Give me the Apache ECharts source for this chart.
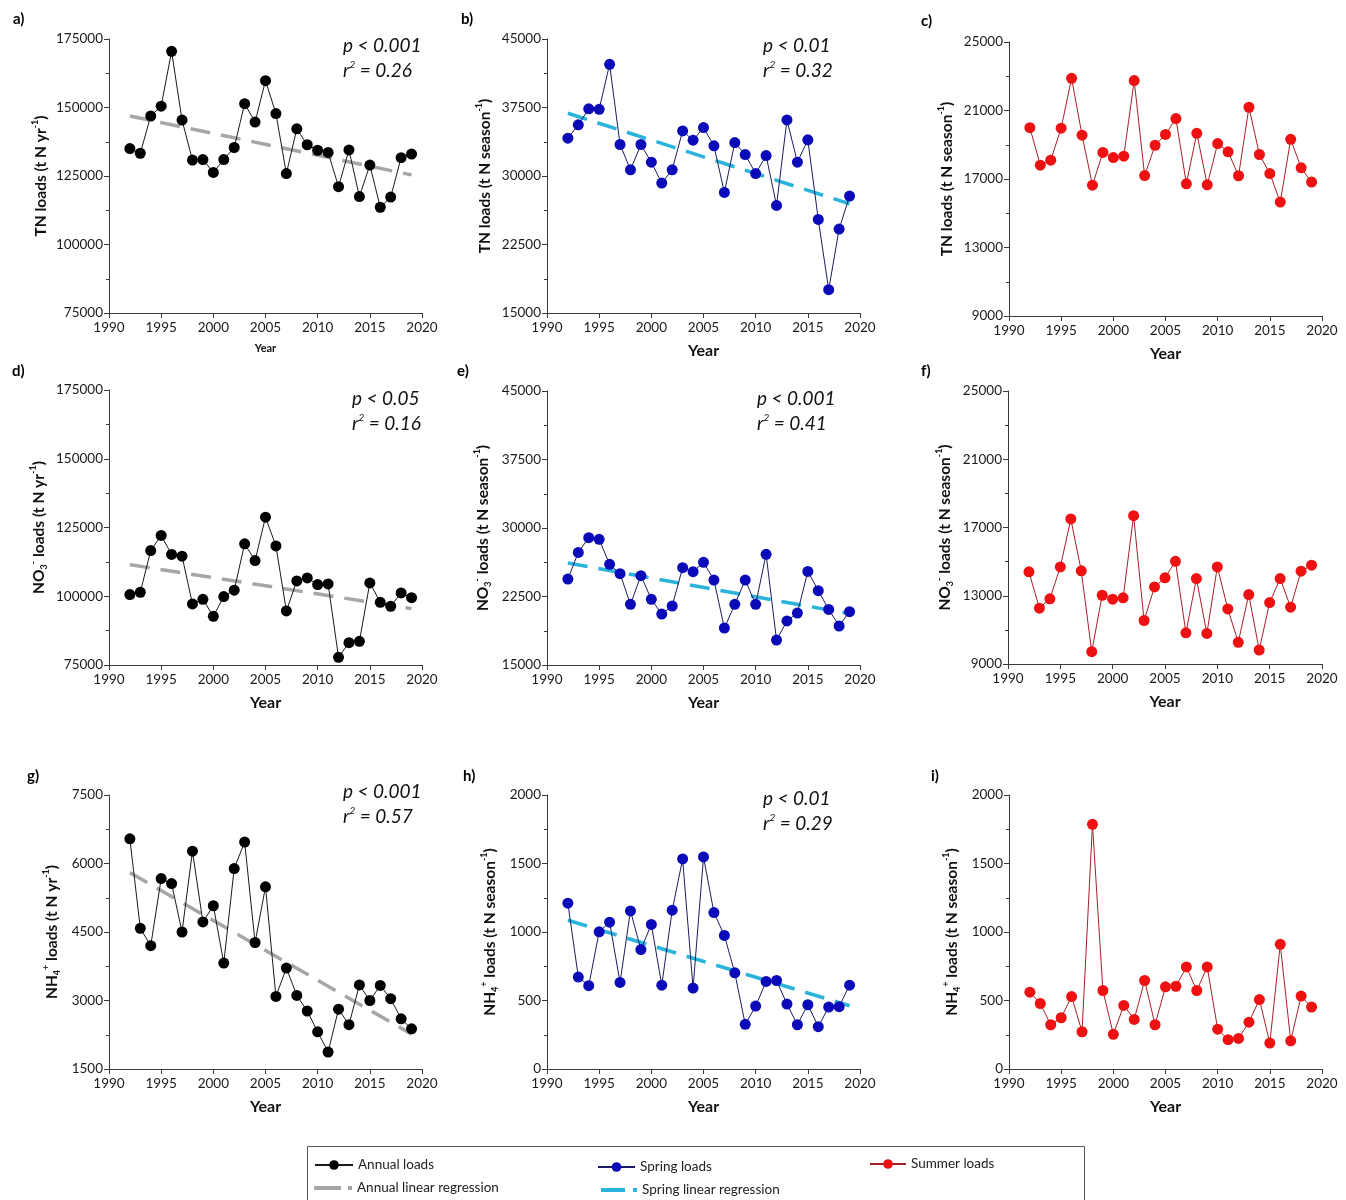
<!DOCTYPE html>
<html><head><meta charset="utf-8">
<script src="https://cdn.jsdelivr.net/npm/echarts@6/dist/echarts.min.js"></script>
<style>html,body{margin:0;padding:0;background:#fff}#c{width:1346px;height:1200px}</style>
</head><body><div id="c"></div>
<script>
// ---------------- data ----------------
const years = [1992,1993,1994,1995,1996,1997,1998,1999,2000,2001,2002,2003,2004,2005,2006,2007,2008,2009,2010,2011,2012,2013,2014,2015,2016,2017,2018,2019];
const regYears = [1992, 2019];

const annualTN = [135000,133300,146900,150500,170500,145400,130800,131000,126300,131000,135400,151400,144700,159800,147800,125900,142200,136400,134400,133600,121100,134500,117500,129000,113600,117300,131700,133000];
const springTN = [34140,35600,37350,37300,42230,33450,30680,33450,31510,29220,30680,34940,33920,35300,33300,28200,33660,32350,30270,32240,26780,36140,31510,33960,25240,17550,24190,27800];
const summerTN = [20000,17810,18100,19970,22880,19560,16640,18550,18250,18330,22750,17200,18970,19600,20530,16720,19670,16660,19070,18590,17190,21190,18430,17320,15650,19320,17650,16820];

const annualNO3 = [100600,101450,116600,122100,115200,114560,97200,98900,92700,99900,102200,119050,112985,128760,118300,94660,105580,106670,104250,104490,77790,83130,83600,104850,97800,96360,101200,99500];
const springNO3 = [24410,27330,28940,28760,26020,25000,21640,24780,22190,20580,21460,25650,25220,26240,24300,19050,21640,24300,21640,27120,17730,19820,20690,25250,23140,21090,19270,20840];
const summerNO3 = [14400,12270,12820,14690,17500,14460,9720,13030,12800,12880,17690,11550,13520,14050,15020,10830,14010,10790,14690,12230,10270,13070,9820,12600,14010,12330,14440,14790];

const annualNH4 = [6540,4580,4200,5670,5560,4500,6270,4720,5075,3820,5890,6470,4270,5490,3090,3710,3110,2770,2315,1870,2810,2470,3340,3000,3330,3040,2600,2380];
const springNH4 = [1210,671,608,1001,1072,632,1154,872,1055,612,1159,1533,591,1548,1142,975,702,326,459,639,646,474,323,469,309,452,455,612];
const summerNH4 = [561,478,323,374,529,272,1786,573,253,464,362,646,323,600,604,745,573,745,291,214,223,342,507,189,910,206,532,452];

// regression end values (1992, 2019)
const regAnnualTN = [146900, 125400];
const regSpringTN = [36870, 26960];
const regAnnualNO3 = [111500, 95500];
const regSpringNO3 = [26170, 20620];
const regAnnualNH4 = [5800, 2264];
const regSpringNH4 = [1086, 462];

// y-axis ranges [min, max, interval]
const yRanges = {
  annualTN: [75000, 175000, 25000], seasonTN: [15000, 45000, 7500], summerTN: [9000, 25000, 4000],
  annualNH4: [1500, 7500, 1500], seasonNH4: [0, 2000, 500]
};
const xRange = [1990, 2020, 5];

const panelLabels = ['a)','b)','c)','d)','e)','f)','g)','h)','i)'];
const pTexts = ['p < 0.001','p < 0.01','p < 0.05','p < 0.001','p < 0.001','p < 0.01'];
const r2Texts = ['0.26','0.32','0.16','0.41','0.57','0.29'];
const seriesNames = ['Annual loads','Annual linear regression','Spring loads','Spring linear regression','Summer loads'];

// ---------------- chart ----------------
const FONT = 'Lato, "Open Sans", sans-serif';
const COL = {
  annual: '#000000', annualLine: '#1a1a1a', annualReg: '#a6a6a6',
  spring: '#0a0ab8', springLine: '#1c1c60', springReg: '#2ab4dc',
  summer: '#ee1111', summerLine: '#a82028'
};

const grids = [
  {left:109, top:39, width:313, height:274},
  {left:547, top:39, width:313, height:274},
  {left:1009, top:42, width:313, height:274},
  {left:109, top:390, width:313, height:275},
  {left:547, top:391, width:313, height:274},
  {left:1008, top:391, width:314, height:273},
  {left:109, top:795, width:313, height:274},
  {left:547, top:795, width:313, height:274},
  {left:1009, top:795, width:313, height:274}
];

const richName = {
  b: {fontFamily: FONT, fontWeight: 'bold', fontSize: 15.5, color: '#111', lineHeight: 20},
  sup: {fontFamily: FONT, fontWeight: 'bold', fontSize: 9, color: '#111', lineHeight: 9, verticalAlign: 'top'},
  sub: {fontFamily: FONT, fontWeight: 'bold', fontSize: 9, color: '#111', lineHeight: 9, verticalAlign: 'bottom'}
};
const nmTNyr = '{b|TN loads (t N yr}{sup|-1}{b|)}';
const nmTNs = '{b|TN loads (t N season}{sup|-1}{b|)}';
const nmNO3yr = '{b|NO}{sub|3}{sup|-}{b| loads (t N yr}{sup|-1}{b|)}';
const nmNO3s = '{b|NO}{sub|3}{sup|-}{b| loads (t N season}{sup|-1}{b|)}';
const nmNH4yr = '{b|NH}{sub|4}{sup|+}{b| loads (t N yr}{sup|-1}{b|)}';
const nmNH4s = '{b|NH}{sub|4}{sup|+}{b| loads (t N season}{sup|-1}{b|)}';

const yDefs = [
  [yRanges.annualTN, nmTNyr, 58],
  [yRanges.seasonTN, nmTNs, 52],
  [yRanges.summerTN, nmTNs, 52],
  [yRanges.annualTN, nmNO3yr, 60],
  [yRanges.seasonTN, nmNO3s, 54],
  [yRanges.summerTN, nmNO3s, 53],
  [yRanges.annualNH4, nmNH4yr, 47],
  [yRanges.seasonNH4, nmNH4s, 47],
  [yRanges.seasonNH4, nmNH4s, 47]
];

const axisCommon = {
  axisLine: {lineStyle: {color: '#3a3a3a', width: 1}},
  axisTick: {length: 5, lineStyle: {color: '#3a3a3a'}},
  splitLine: {show: false},
  axisLabel: {color: '#1a1a1a', fontFamily: FONT, fontSize: 13.5, formatter: v => String(v)}
};

const xAxes = grids.map((g, i) => Object.assign({}, axisCommon, {
  type: 'value', gridIndex: i, min: xRange[0], max: xRange[1], interval: xRange[2],
  name: 'Year', nameLocation: 'middle', nameGap: 30,
  nameTextStyle: {fontFamily: FONT, fontWeight: 'bold', fontSize: i === 0 ? 11 : 16, color: '#111'},
  axisLabel: Object.assign({}, axisCommon.axisLabel, {margin: 8})
}));

const yAxes = yDefs.map((d, i) => Object.assign({}, axisCommon, {
  type: 'value', gridIndex: i, min: d[0][0], max: d[0][1], interval: d[0][2],
  minorTick: {show: true, splitNumber: 2, length: 3, lineStyle: {color: '#3a3a3a'}},
  minorSplitLine: {show: false},
  name: d[1], nameLocation: 'middle', nameRotate: 90, nameGap: d[2],
  nameTextStyle: {rich: richName},
  axisLabel: Object.assign({}, axisCommon.axisLabel, {margin: 6})
}));

function pts(vals) { return years.map((y, k) => [y, vals[k]]); }
function regPts(vals) { return regYears.map((y, k) => [y, vals[k]]); }

function loadSeries(name, vals, idx, mColor, lColor) {
  return {
    type: 'line', name: name, xAxisIndex: idx, yAxisIndex: idx, data: pts(vals),
    symbol: 'circle', symbolSize: 11, z: 3,
    itemStyle: {color: mColor},
    lineStyle: {color: lColor, width: 1},
    emphasis: {disabled: true}, animation: false
  };
}
function regSeries(name, vals, idx, color) {
  return {
    type: 'line', name: name, xAxisIndex: idx, yAxisIndex: idx, data: regPts(vals),
    symbol: 'none', z: 2,
    itemStyle: {color: color},
    lineStyle: {color: color, width: 3.5, type: [20, 11]},
    emphasis: {disabled: true}, animation: false
  };
}

const series = [
  regSeries(seriesNames[1], regAnnualTN, 0, COL.annualReg),
  loadSeries(seriesNames[0], annualTN, 0, COL.annual, COL.annualLine),
  regSeries(seriesNames[3], regSpringTN, 1, COL.springReg),
  loadSeries(seriesNames[2], springTN, 1, COL.spring, COL.springLine),
  loadSeries(seriesNames[4], summerTN, 2, COL.summer, COL.summerLine),
  regSeries(seriesNames[1], regAnnualNO3, 3, COL.annualReg),
  loadSeries(seriesNames[0], annualNO3, 3, COL.annual, COL.annualLine),
  regSeries(seriesNames[3], regSpringNO3, 4, COL.springReg),
  loadSeries(seriesNames[2], springNO3, 4, COL.spring, COL.springLine),
  loadSeries(seriesNames[4], summerNO3, 5, COL.summer, COL.summerLine),
  regSeries(seriesNames[1], regAnnualNH4, 6, COL.annualReg),
  loadSeries(seriesNames[0], annualNH4, 6, COL.annual, COL.annualLine),
  regSeries(seriesNames[3], regSpringNH4, 7, COL.springReg),
  loadSeries(seriesNames[2], springNH4, 7, COL.spring, COL.springLine),
  loadSeries(seriesNames[4], summerNH4, 8, COL.summer, COL.summerLine)
];

// graphic text: panel labels & stats
const labelPos = [[13,19],[461,19],[921,21],[12,371],[457,371],[921,371],[27,776],[463,776],[931,776]];
const statPos = [[343,46],[763,46],[352,399],[757,399],[343,792],[763,799]];
const graphic = [];
panelLabels.forEach((t, i) => graphic.push({
  type: 'text', x: labelPos[i][0], y: labelPos[i][1],
  style: {text: t, fill: '#000', font: 'bold 15px ' + FONT, align: 'left', verticalAlign: 'middle'}
}));
const richStat = {
  it: {fontFamily: FONT, fontStyle: 'italic', fontSize: 19, fill: '#111', lineHeight: 22},
  sup: {fontFamily: FONT, fontStyle: 'italic', fontSize: 10, fill: '#111', lineHeight: 10, verticalAlign: 'top'}
};
statPos.forEach((p, i) => {
  graphic.push({
    type: 'text', x: p[0], y: p[1],
    style: {text: '{it|' + pTexts[i] + '}', rich: richStat, align: 'left', verticalAlign: 'middle'}
  });
  graphic.push({
    type: 'text', x: p[0], y: p[1] + 25,
    style: {text: '{it|r}{sup|2}{it| = ' + r2Texts[i] + '}', rich: richStat, align: 'left', verticalAlign: 'middle'}
  });
});
// legend frame
graphic.push({
  type: 'rect', shape: {x: 307.5, y: 1146.5, width: 777, height: 70},
  style: {fill: 'none', stroke: '#555', lineWidth: 1}, z: -1
});

const legendText = {fontFamily: FONT, fontSize: 13.5, color: '#222'};
const dashIconA = 'path://M0,0H27V4H0Z M34,0H38V4H34Z';
const dashIconS = 'path://M0,0H24V4H0Z M32,0H36V4H32Z';
const legends = [
  {data: [seriesNames[0]], left: 314, top: 1158, itemWidth: 38, itemHeight: 12},
  {data: [{name: seriesNames[1], icon: dashIconA}], left: 314, top: 1181, itemWidth: 38, itemHeight: 4},
  {data: [seriesNames[2]], left: 597, top: 1160, itemWidth: 37, itemHeight: 12},
  {data: [{name: seriesNames[3], icon: dashIconS}], left: 601, top: 1183, itemWidth: 36, itemHeight: 4},
  {data: [seriesNames[4]], left: 869, top: 1157, itemWidth: 36, itemHeight: 12}
].map(l => Object.assign({
  orient: 'horizontal', padding: 0, textStyle: legendText, selectedMode: false
}, l));

const chart = echarts.init(document.getElementById('c'), null, {renderer: 'canvas'});
chart.setOption({
  animation: false,
  backgroundColor: '#fff',
  grid: grids,
  xAxis: xAxes,
  yAxis: yAxes,
  legend: legends,
  series: series,
  graphic: graphic
});
</script>
</body></html>
